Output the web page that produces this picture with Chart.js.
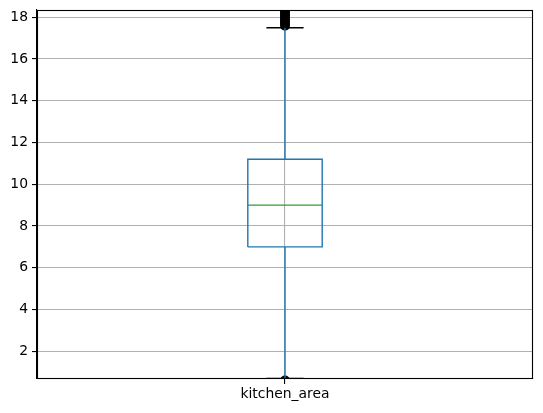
<!DOCTYPE html>
<html>
<head>
<meta charset="utf-8">
<script src="https://cdn.jsdelivr.net/npm/chart.js@4/dist/chart.umd.min.js"></script>
<style>
html,body{margin:0;padding:0;background:#fff;}
#wrap{width:543px;height:413px;}
</style>
</head>
<body>
<div id="wrap"><canvas id="c" width="543" height="413"></canvas></div>
<script>
// ---- data ----
const categories = ['kitchen_area'];
const q1 = [7.0];
const median = [9.0];
const q3 = [11.2];
const whiskerLow = [0.7];
const whiskerHigh = [17.5];
const fliers = [0.6, 17.6, 17.7, 17.8, 17.9, 18.0, 18.1, 18.2, 18.3, 18.4, 18.5, 18.8, 19.0, 19.5, 20.0, 21.0, 22.0, 25.0, 30.0];
const yTicks = [2, 4, 6, 8, 10, 12, 14, 16, 18];
const yMin = 0.67, yMax = 18.35;

// ---- styling ----
const boxWidth = 0.15;
const capWidth = boxWidth / 2;
const blue = '#1f77b4', green = '#2ca02c', black = '#000000';
const lw = 1.4;
const FONT = {family: '"DejaVu Sans", sans-serif', size: 13.9};

const datasets = [];
function seg(pts, color) {
  datasets.push({type: 'scatter', data: pts, showLine: true, borderColor: color, borderWidth: lw,
    pointRadius: 0, pointHoverRadius: 0, fill: false, clip: 0, tension: 0});
}
categories.forEach((cat, i) => {
  const x = i + 1;
  seg([{x: x, y: q1[i]}, {x: x, y: whiskerLow[i]}], blue);
  seg([{x: x, y: q3[i]}, {x: x, y: whiskerHigh[i]}], blue);
  seg([{x: x - capWidth / 2, y: whiskerLow[i]}, {x: x + capWidth / 2, y: whiskerLow[i]}], black);
  seg([{x: x - capWidth / 2, y: whiskerHigh[i]}, {x: x + capWidth / 2, y: whiskerHigh[i]}], black);
  seg([{x: x - boxWidth / 2, y: q1[i]}, {x: x + boxWidth / 2, y: q1[i]}, {x: x + boxWidth / 2, y: q3[i]},
       {x: x - boxWidth / 2, y: q3[i]}, {x: x - boxWidth / 2, y: q1[i]}], blue);
  seg([{x: x - boxWidth / 2, y: median[i]}, {x: x + boxWidth / 2, y: median[i]}], green);
  datasets.push({type: 'scatter', data: fliers.map(v => ({x: x, y: v})), showLine: false,
    pointRadius: 4.3, pointBorderWidth: 1.3, pointBackgroundColor: black, pointBorderColor: black,
    pointHoverRadius: 4.3, clip: 0});
});

const framePlugin = {
  id: 'frame',
  afterDraw(chart) {
    const {ctx, chartArea: a} = chart;
    ctx.save();
    ctx.strokeStyle = black;
    ctx.lineWidth = 1.1;
    const l = Math.round(a.left) + 0.5, r = Math.round(a.right) - 0.5;
    const t = Math.round(a.top) + 0.5, b = Math.round(a.bottom) - 0.5;
    ctx.strokeRect(l, t, r - l, b - t);
    ctx.restore();
  }
};

new Chart(document.getElementById('c'), {
  data: {datasets},
  options: {
    responsive: false,
    animation: false,
    events: [],
    layout: {padding: {top: 10, right: 10, left: 0, bottom: 0}},
    plugins: {legend: {display: false}, tooltip: {enabled: false}},
    scales: {
      x: {
        type: 'linear', min: 0.5, max: 1.5,
        afterBuildTicks(s) { s.ticks = categories.map((c, i) => ({value: i + 1})); },
        afterFit(s) { s.height = 34; s.paddingLeft = 0; s.paddingRight = 0; },
        ticks: {
          callback: (v) => categories[Math.round(v) - 1] || '',
          color: black, font: FONT, padding: 2, maxRotation: 0, autoSkip: false
        },
        grid: {color: '#b0b0b0', lineWidth: 1.1, tickColor: black, tickLength: 5, tickWidth: 1.1},
        border: {color: black, width: 1.1}
      },
      y: {
        type: 'linear', min: yMin, max: yMax,
        afterBuildTicks(s) { s.ticks = yTicks.map(v => ({value: v})); },
        afterFit(s) { s.width = 37; s.paddingTop = 0; s.paddingBottom = 0; },
        ticks: {color: black, font: FONT, padding: 4, callback: (v) => String(v)},
        grid: {color: '#b0b0b0', lineWidth: 1.1, tickColor: black, tickLength: 5, tickWidth: 1.1},
        border: {color: black, width: 1.1}
      }
    }
  },
  plugins: [framePlugin]
});
</script>
</body>
</html>
